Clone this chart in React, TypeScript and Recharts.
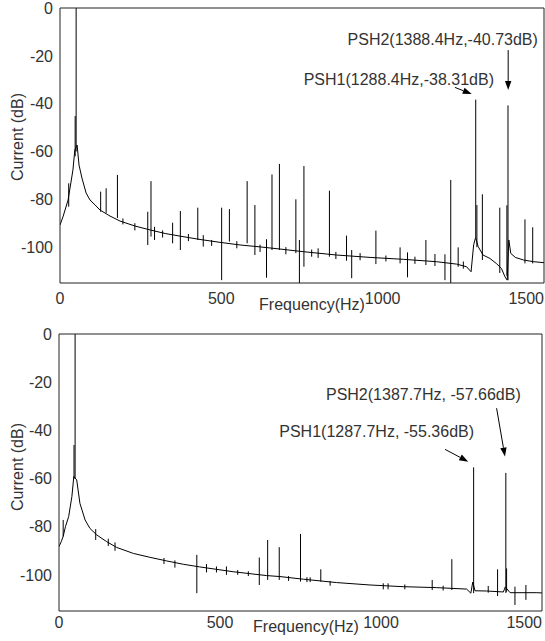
import React from 'react';
import { LineChart, Line, XAxis, YAxis, ReferenceLine, ReferenceDot, Label } from 'recharts';

const FONT = '"Liberation Sans", Arial, Helvetica, sans-serif';
const AX = '#222';
const TXT = '#333';

const xTicks = [0, 500, 1000, 1500];
const yTicks = [0, -20, -40, -60, -80, -100];

// upper spectrum: smooth floor + single-line harmonics
const topFloorHz = [0, 10, 25, 40, 46, 53, 59, 68, 81, 93, 109, 124, 155, 186, 233, 279, 326, 372, 434, 496, 558, 620, 682, 754, 857, 961, 1064, 1167, 1229, 1260, 1274, 1282, 1288, 1296, 1311, 1332, 1352, 1368, 1379, 1386, 1391, 1397, 1411, 1437, 1468, 1500];
const topFloorDb = [-90.8, -87, -80.3, -67.8, -59.4, -57.3, -65.7, -71.1, -77.4, -80.3, -82.4, -84.5, -87, -89.1, -91.2, -92.8, -94.3, -95.4, -96.8, -98, -99.1, -99.9, -100.8, -101.9, -103.3, -104.3, -105.1, -106.1, -107.1, -108.2, -110.3, -99, -96, -99.8, -103.3, -104.7, -106.8, -108.9, -112.4, -113.8, -97, -102.6, -104.3, -105.4, -106.1, -106.5];

const topSpikeHz = [27, 47, 50, 126, 143, 178, 195, 232, 272, 282, 293, 318, 349, 373, 398, 427, 444, 470, 501, 525, 548, 580, 604, 620, 640, 657, 680, 700, 731, 742, 756, 780, 800, 835, 855, 888, 904, 930, 979, 1010, 1054, 1077, 1100, 1134, 1162, 1193, 1211, 1234, 1250, 1288.4, 1292, 1309, 1363, 1385, 1388.4, 1441, 1465];
const topSpikeHigh = [-73.3, -45.2, 0, -76.8, -75.4, -69.8, -88, -90, -85.2, -72.4, -91.5, -93, -89.8, -84.9, -94.5, -83.5, -95, -97, -83.5, -84.1, -97.5, -72.4, -82.4, -99, -96.7, -69.6, -65.2, -100, -80, -97, -66.1, -101, -100.5, -76.4, -102, -95.2, -101.2, -102.5, -93.1, -103.5, -100.1, -102.2, -104, -97, -102.9, -103, -71.9, -100.1, -106, -38.31, -82.4, -77.9, -83.5, -82.5, -40.73, -88.4, -91.7];
const topSpikeLow = [-83.1, -62, -60, -85.2, -85.7, -87.8, -90.5, -93, -99.1, -95.6, -97, -96, -98.4, -101.2, -97.5, -97, -99.8, -99.5, -113.8, -97.7, -100.5, -98.4, -103.3, -102, -112.8, -101.2, -101.2, -103, -102.5, -115, -108.2, -104, -104.5, -104, -105, -105.7, -113, -105.5, -107.1, -106, -106.8, -112.6, -107, -107.5, -107.9, -113.8, -115, -108.2, -109, -96, -100, -105.4, -110.8, -112, -113.8, -106.8, -106.8];

// lower spectrum
const botFloorHz = [0, 7, 13, 20, 30, 40, 46, 55, 65, 81, 96, 117, 148, 179, 231, 282, 334, 386, 437, 489, 541, 593, 645, 686, 759, 862, 966, 1069, 1173, 1266, 1279, 1285, 1292, 1328, 1380, 1386, 1401, 1484, 1500];
const botFloorDb = [-88.3, -86.2, -84, -80, -75.8, -67.5, -59.2, -60.6, -70.3, -77.2, -80.7, -83.4, -86.2, -88.6, -91.1, -92.7, -94.2, -95.6, -96.7, -97.7, -98.7, -99.5, -100.3, -100.7, -101.8, -103.2, -104.2, -104.9, -105.3, -105.9, -107.6, -103, -106.6, -106.7, -107.1, -105, -107.4, -107.4, -107.5];

const botSpikeHz = [13, 46.6, 50, 114, 153, 174, 326, 360, 428, 458, 489, 520, 555, 588, 622, 648, 684, 713, 750, 770, 780, 813, 842, 1007, 1022, 1074, 1159, 1193, 1220, 1287.7, 1333, 1362, 1387.7, 1390, 1416, 1450];
const botSpikeHigh = [-77.2, -46.1, 0, -81, -85, -86.5, -93, -94, -91.7, -95.5, -96.5, -96.5, -98, -98.5, -92.8, -85.5, -88.5, -100.5, -83, -101, -101, -97.7, -102.5, -103.5, -103.5, -104, -102.1, -104.5, -93.5, -55.36, -104.6, -97.7, -57.66, -97.3, -104.9, -104.2];
const botSpikeLow = [-84.1, -60, -60, -85.5, -88, -90, -95.5, -97, -107.6, -99, -99, -100, -100, -100.5, -104.2, -102.1, -102.1, -102.5, -102.8, -103, -103, -102.8, -104.5, -106, -106, -106, -106.3, -106.5, -106.3, -107.6, -107.4, -108.8, -107.5, -107, -112.5, -110.4];

const topNotes = [
  { text: 'PSH2(1388.4Hz,-40.73dB)', hz: 1481, db: -15.5 },
  { text: 'PSH1(1288.4Hz,-38.31dB)', hz: 1345, db: -32.2 },
];
const topArrows = [
  { from: [1389, -17.6], to: [1389, -34.3] },
  { from: [1224, -33.2], to: [1276, -36.0] },
];
const botNotes = [
  { text: 'PSH2(1387.7Hz, -57.66dB)', hz: 1434, db: -27.4 },
  { text: 'PSH1(1287.7Hz, -55.36dB)', hz: 1289, db: -42.8 },
];
const botArrows = [
  { from: [1359, -30.8], to: [1385, -50.9] },
  { from: [1199, -47.9], to: [1271, -53.0] },
];

const floorRows = (hz: number[], db: number[]) => hz.map((f, i) => ({ f, v: db[i] }));
const spikeRows = (hz: number[], hi: number[], lo: number[]) => {
  const rows: { f: number; v: number | null }[] = [];
  hz.forEach((f, i) => {
    rows.push({ f, v: hi[i] }, { f, v: lo[i] }, { f, v: null });
  });
  return rows;
};

const XTick = (props: any) => {
  const { x, y, payload } = props;
  const last = payload.value === 1500;
  return (
    <text x={x} y={y} dy="0.71em" textAnchor={last ? 'end' : 'middle'} fontSize={16} fill={TXT} fontFamily={FONT}>
      {payload.value}
    </text>
  );
};

const arrowShape = (p: any) => {
  const { x1, y1, x2, y2 } = p;
  const a = Math.atan2(y2 - y1, x2 - x1);
  const L = 9;
  const W = 3.2;
  const bx = x2 - L * Math.cos(a);
  const by = y2 - L * Math.sin(a);
  const pts = `${x2},${y2} ${bx - W * Math.sin(a)},${by + W * Math.cos(a)} ${bx + W * Math.sin(a)},${by - W * Math.cos(a)}`;
  return (
    <g>
      <line x1={x1} y1={y1} x2={bx} y2={by} stroke="#000" strokeWidth={1} />
      <polygon points={pts} fill="#000" />
    </g>
  );
};

interface PanelProps {
  top: number;
  height: number;
  right: number;
  yw: number;
  xh: number;
  tickMargin: number;
  xLabel: { dx: number; dy: number };
  yLabel: { dy: number };
  floor: { f: number; v: number }[];
  spikes: { f: number; v: number | null }[];
  notes: { text: string; hz: number; db: number }[];
  arrows: { from: number[]; to: number[] }[];
}

const Panel = (p: PanelProps) => (
  <div style={{ position: 'absolute', left: 0, top: p.top }}>
    <LineChart width={545} height={p.height} margin={{ top: 8, right: p.right, left: 0, bottom: 0 }} style={{ fontFamily: FONT }}>
      <XAxis
        xAxisId="x"
        type="number"
        dataKey="f"
        domain={[0, 1500]}
        allowDataOverflow
        ticks={xTicks}
        interval={0}
        height={p.xh}
        tickLine={false}
        tickSize={0}
        tickMargin={p.tickMargin}
        tick={<XTick />}
        axisLine={{ stroke: AX }}
      >
        <Label
          content={(lp: any) => {
            const vb = lp.viewBox;
            return (
              <text x={vb.x + vb.width / 2 + p.xLabel.dx} y={vb.y + p.xLabel.dy} textAnchor="middle" fontSize={16} fill={TXT} fontFamily={FONT}>
                Frequency(Hz)
              </text>
            );
          }}
        />
      </XAxis>
      <XAxis xAxisId="xb" type="number" domain={[0, 1500]} allowDataOverflow ticks={xTicks} interval={0} mirror tick={false} tickSize={5} axisLine={false} tickLine={{ stroke: AX }} />
      <XAxis xAxisId="xt" orientation="top" type="number" domain={[0, 1500]} allowDataOverflow ticks={xTicks} interval={0} mirror tick={false} tickSize={5} axisLine={{ stroke: AX }} tickLine={{ stroke: AX }} />
      <YAxis
        yAxisId="y"
        type="number"
        domain={[-115, 0]}
        allowDataOverflow
        ticks={yTicks}
        interval={0}
        width={p.yw}
        tickLine={false}
        tickSize={0}
        tickMargin={7}
        tick={{ fontSize: 16, fill: TXT, fontFamily: FONT }}
        axisLine={{ stroke: AX }}
      >
        <Label
          content={(lp: any) => {
            const vb = lp.viewBox;
            const cx = vb.x + 23;
            const cy = vb.y + vb.height / 2 + p.yLabel.dy;
            return (
              <text x={cx} y={cy} transform={`rotate(-90, ${cx}, ${cy})`} textAnchor="middle" fontSize={16} fill={TXT} fontFamily={FONT}>
                Current (dB)
              </text>
            );
          }}
        />
      </YAxis>
      <YAxis yAxisId="yl" type="number" domain={[-115, 0]} allowDataOverflow ticks={yTicks} interval={0} mirror tick={false} tickSize={5} axisLine={false} tickLine={{ stroke: AX }} />
      <YAxis yAxisId="yr" orientation="right" type="number" domain={[-115, 0]} allowDataOverflow ticks={yTicks} interval={0} mirror tick={false} tickSize={5} axisLine={{ stroke: AX }} tickLine={{ stroke: AX }} />

      <Line xAxisId="x" yAxisId="y" data={p.floor} dataKey="v" type="linear" stroke="#000" strokeWidth={1} dot={false} isAnimationActive={false} />
      <Line xAxisId="x" yAxisId="y" data={p.spikes} dataKey="v" type="linear" stroke="#000" strokeWidth={1} dot={false} connectNulls={false} isAnimationActive={false} />

      {p.arrows.map((a, i) => (
        <ReferenceLine
          key={`a${i}`}
          xAxisId="x"
          yAxisId="y"
          segment={[{ x: a.from[0], y: a.from[1] }, { x: a.to[0], y: a.to[1] }]}
          shape={arrowShape}
        />
      ))}
      {p.notes.map((n, i) => (
        <ReferenceDot
          key={`n${i}`}
          xAxisId="x"
          yAxisId="y"
          x={n.hz}
          y={n.db}
          shape={(d: any) => (
            <text x={d.cx} y={d.cy} textAnchor="end" fontSize={16} fill={TXT} fontFamily={FONT}>
              {n.text}
            </text>
          )}
        />
      ))}
    </LineChart>
  </div>
);

export default function App() {
  return (
    <div style={{ position: 'absolute', left: 0, top: 0, width: 545, height: 641, background: '#fff' }}>
      <Panel
        top={0}
        height={320}
        right={1}
        yw={60}
        xh={37}
        tickMargin={10}
        xLabel={{ dx: 10, dy: 27 }}
        yLabel={{ dy: -8.5 }}
        floor={floorRows(topFloorHz, topFloorDb)}
        spikes={spikeRows(topSpikeHz, topSpikeHigh, topSpikeLow)}
        notes={topNotes}
        arrows={topArrows}
      />
      <Panel
        top={326}
        height={315}
        right={3}
        yw={59}
        xh={30}
        tickMargin={6}
        xLabel={{ dx: 5.5, dy: 20.5 }}
        yLabel={{ dy: -5.5 }}
        floor={floorRows(botFloorHz, botFloorDb)}
        spikes={spikeRows(botSpikeHz, botSpikeHigh, botSpikeLow)}
        notes={botNotes}
        arrows={botArrows}
      />
    </div>
  );
}
